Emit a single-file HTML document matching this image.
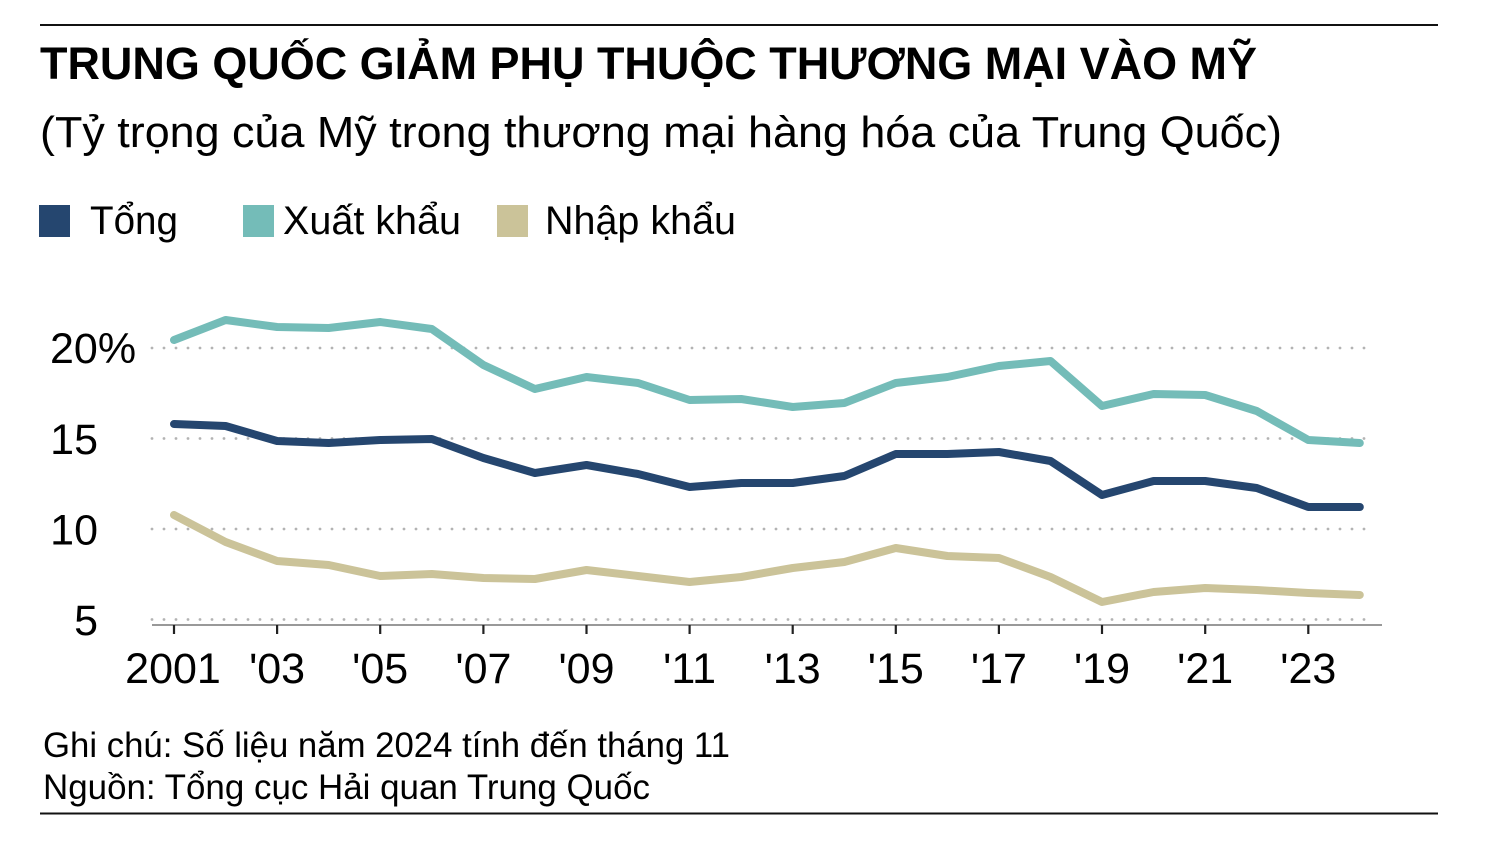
<!DOCTYPE html>
<html>
<head>
<meta charset="utf-8">
<style>
  html,body{margin:0;padding:0;background:#fff;}
  svg{display:block;}
  text{font-family:"Liberation Sans", Arial, sans-serif;fill:#000;}
</style>
</head>
<body>
<svg width="1496" height="844" viewBox="0 0 1496 844" xmlns="http://www.w3.org/2000/svg">
  <rect x="0" y="0" width="1496" height="844" fill="#fff"/>
  <!-- top rule -->
  <line x1="40" y1="25" x2="1438" y2="25" stroke="#111" stroke-width="2"/>

  <!-- title -->
  <text x="40" y="79" font-size="45.5" font-weight="bold" textLength="1217" lengthAdjust="spacingAndGlyphs">TRUNG QUỐC GIẢM PHỤ THUỘC THƯƠNG MẠI VÀO MỸ</text>
  <text x="40" y="147" font-size="44" textLength="1242" lengthAdjust="spacingAndGlyphs">(Tỷ trọng của Mỹ trong thương mại hàng hóa của Trung Quốc)</text>

  <!-- legend -->
  <rect x="39" y="205" width="31" height="32" fill="#25466f"/>
  <text x="90" y="234" font-size="40" textLength="88" lengthAdjust="spacingAndGlyphs">Tổng</text>
  <rect x="243" y="205" width="31" height="32" fill="#74bcb8"/>
  <text x="283" y="234" font-size="40" textLength="178" lengthAdjust="spacingAndGlyphs">Xuất khẩu</text>
  <rect x="497" y="205" width="31" height="32" fill="#cbc399"/>
  <text x="545" y="234" font-size="40" textLength="191" lengthAdjust="spacingAndGlyphs">Nhập khẩu</text>

  <!-- gridlines -->
  <g stroke="#b3b3b3" stroke-width="2.8" stroke-linecap="round" stroke-dasharray="0 12">
    <line x1="152" y1="348" x2="1376" y2="348"/>
    <line x1="152" y1="438.5" x2="1376" y2="438.5"/>
    <line x1="152" y1="529" x2="1376" y2="529"/>
    <line x1="152" y1="619.5" x2="1376" y2="619.5"/>
  </g>

  <!-- y labels -->
  <text x="50" y="363" font-size="43">20%</text>
  <text x="98" y="454" font-size="43" text-anchor="end">15</text>
  <text x="98" y="544.5" font-size="43" text-anchor="end">10</text>
  <text x="98" y="635" font-size="43" text-anchor="end">5</text>

  <!-- x axis -->
  <line x1="152" y1="625" x2="1382" y2="625" stroke="#999" stroke-width="2"/>
  <g stroke="#222" stroke-width="2.2">
    <line x1="174" y1="625" x2="174" y2="634"/>
    <line x1="277.1" y1="625" x2="277.1" y2="634"/>
    <line x1="380.2" y1="625" x2="380.2" y2="634"/>
    <line x1="483.4" y1="625" x2="483.4" y2="634"/>
    <line x1="586.5" y1="625" x2="586.5" y2="634"/>
    <line x1="689.6" y1="625" x2="689.6" y2="634"/>
    <line x1="792.7" y1="625" x2="792.7" y2="634"/>
    <line x1="895.8" y1="625" x2="895.8" y2="634"/>
    <line x1="998.9" y1="625" x2="998.9" y2="634"/>
    <line x1="1102" y1="625" x2="1102" y2="634"/>
    <line x1="1205.2" y1="625" x2="1205.2" y2="634"/>
    <line x1="1308.3" y1="625" x2="1308.3" y2="634"/>
  </g>
  <g font-size="43" text-anchor="middle">
    <text x="173" y="683">2001</text>
    <text x="277.1" y="683">'03</text>
    <text x="380.2" y="683">'05</text>
    <text x="483.4" y="683">'07</text>
    <text x="586.5" y="683">'09</text>
    <text x="689.6" y="683">'11</text>
    <text x="792.7" y="683">'13</text>
    <text x="895.8" y="683">'15</text>
    <text x="998.9" y="683">'17</text>
    <text x="1102" y="683">'19</text>
    <text x="1205.2" y="683">'21</text>
    <text x="1308.3" y="683">'23</text>
  </g>

  <!-- series -->
  <g fill="none" stroke-width="8" stroke-linejoin="round" stroke-linecap="round">
    <!-- Xuất khẩu -->
    <polyline stroke="#74bcb8" points="174,340 225.6,320 277.1,327 328.7,328 380.2,322 431.8,329 483.4,365 534.9,389 586.5,377 638,383 689.6,400 741.2,399 792.7,407 844.3,403 895.8,383 947.4,377 998.9,366 1050.5,361 1102,406 1153.6,394 1205.2,395 1256.7,411 1308.3,440 1359.8,443"/>
    <!-- Tổng -->
    <polyline stroke="#25466f" points="174,424 225.6,426 277.1,441 328.7,443 380.2,440 431.8,439 483.4,458 534.9,473 586.5,465 638,474 689.6,487 741.2,483 792.7,483 844.3,476 895.8,454 947.4,454 998.9,452 1050.5,461 1102,495 1153.6,481 1205.2,481 1256.7,488 1308.3,507 1359.8,507"/>
    <!-- Nhập khẩu -->
    <polyline stroke="#cbc399" points="174,515 225.6,542 277.1,561 328.7,565 380.2,576 431.8,574 483.4,578 534.9,579 586.5,570 638,576 689.6,582 741.2,577 792.7,568 844.3,562 895.8,548 947.4,556 998.9,558 1050.5,577 1102,602 1153.6,592 1205.2,588 1256.7,590 1308.3,593 1359.8,595"/>
  </g>

  <!-- footer -->
  <text x="43" y="757" font-size="35" textLength="687" lengthAdjust="spacingAndGlyphs">Ghi chú: Số liệu năm 2024 tính đến tháng 11</text>
  <text x="43" y="799" font-size="35" textLength="607" lengthAdjust="spacingAndGlyphs">Nguồn: Tổng cục Hải quan Trung Quốc</text>

  <!-- bottom rule -->
  <line x1="40" y1="813.5" x2="1438" y2="813.5" stroke="#111" stroke-width="2"/>
</svg>
</body>
</html>
